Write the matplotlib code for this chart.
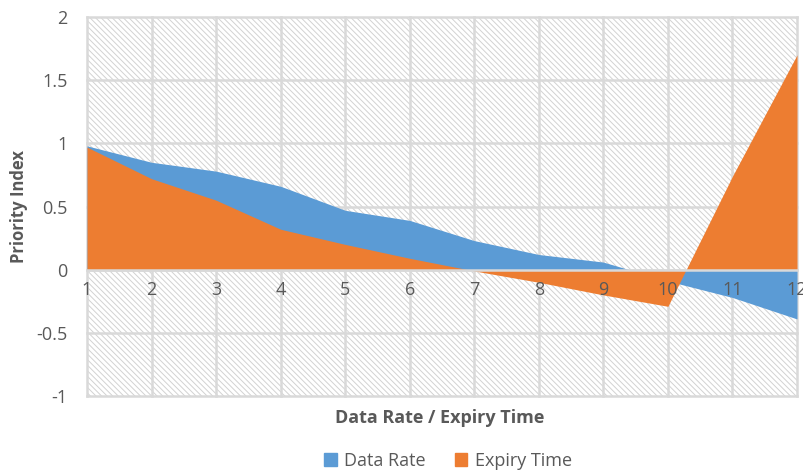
import matplotlib

matplotlib.use("Agg")
import matplotlib.pyplot as plt
from matplotlib.patches import Patch, Rectangle

plt.rcParams.update({"font.family": ["Open Sans", "DejaVu Sans"],
                     "hatch.color": "#d2d2d2", "hatch.linewidth": 0.7})

TEXT = "#595959"
GRID = "#d9d9d9"
BLUE = "#5b9bd5"
ORANGE = "#ed7d31"

x = [1, 2, 3, 4, 5, 6, 7, 8, 9, 10, 11, 12]
data_rate = [0.98, 0.85, 0.78, 0.66, 0.47, 0.39, 0.23, 0.12, 0.06, -0.09, -0.22, -0.39]
expiry_time = [0.97, 0.72, 0.55, 0.32, 0.20, 0.09, -0.01, -0.10, -0.20, -0.29, 0.74, 1.70]
y_ticks = [-1, -0.5, 0, 0.5, 1, 1.5, 2]
y_labels = ["-1", "-0.5", "0", "0.5", "1", "1.5", "2"]

fig = plt.figure(figsize=(8.04, 4.76), dpi=100)
ax = fig.add_axes([87 / 804, 1 - 396 / 476, 710 / 804, 379 / 476])

# hatched plot-area background
ax.add_patch(Rectangle((0, 0), 1, 1, transform=ax.transAxes, facecolor="white",
                       edgecolor="#d2d2d2", hatch="\\\\\\\\\\\\", lw=0, zorder=0))

# gridlines sit under the areas, tick labels above them
for xv in x:
    ax.axvline(xv, color=GRID, lw=1.8, zorder=1, clip_on=False)
for yv in y_ticks:
    ax.axhline(yv, color=GRID, lw=1.8, zorder=1, clip_on=False)

ax.fill_between(x, data_rate, 0, color=BLUE, lw=0, zorder=2)
ax.fill_between(x, expiry_time, 0, color=ORANGE, lw=0, zorder=3)

ax.set_xlim(1, 12)
ax.set_ylim(-1, 2)
ax.set_xticks(x)
ax.set_yticks(y_ticks, y_labels)
ax.xaxis.set_zorder(5)

for side in ("top", "right", "left"):
    ax.spines[side].set_visible(False)
ax.spines["bottom"].set_position(("data", 0))
ax.spines["bottom"].set_color(GRID)
ax.spines["bottom"].set_linewidth(1.8)
ax.spines["bottom"].set_zorder(4)
ax.tick_params(length=0, labelsize=13, labelcolor=TEXT)
ax.tick_params(axis="x", pad=8)
ax.tick_params(axis="y", pad=14)

ax.set_ylabel("Priority Index", fontsize=12, fontweight="bold", color=TEXT, labelpad=6)
fig.text(440 / 804, 1 - 418 / 476, "Data Rate / Expiry Time", ha="center", va="center",
         fontsize=13, fontweight="bold", color=TEXT)

handles = [Patch(color=BLUE, label="Data Rate"), Patch(color=ORANGE, label="Expiry Time")]
fig.legend(handles=handles, loc="center", bbox_to_anchor=(448 / 804, 1 - 461 / 476),
           ncol=2, frameon=False, fontsize=13, handlelength=0.7, handleheight=0.7,
           handletextpad=0.4, columnspacing=1.6, labelcolor=TEXT)

fig.savefig("out.png", dpi=100)
